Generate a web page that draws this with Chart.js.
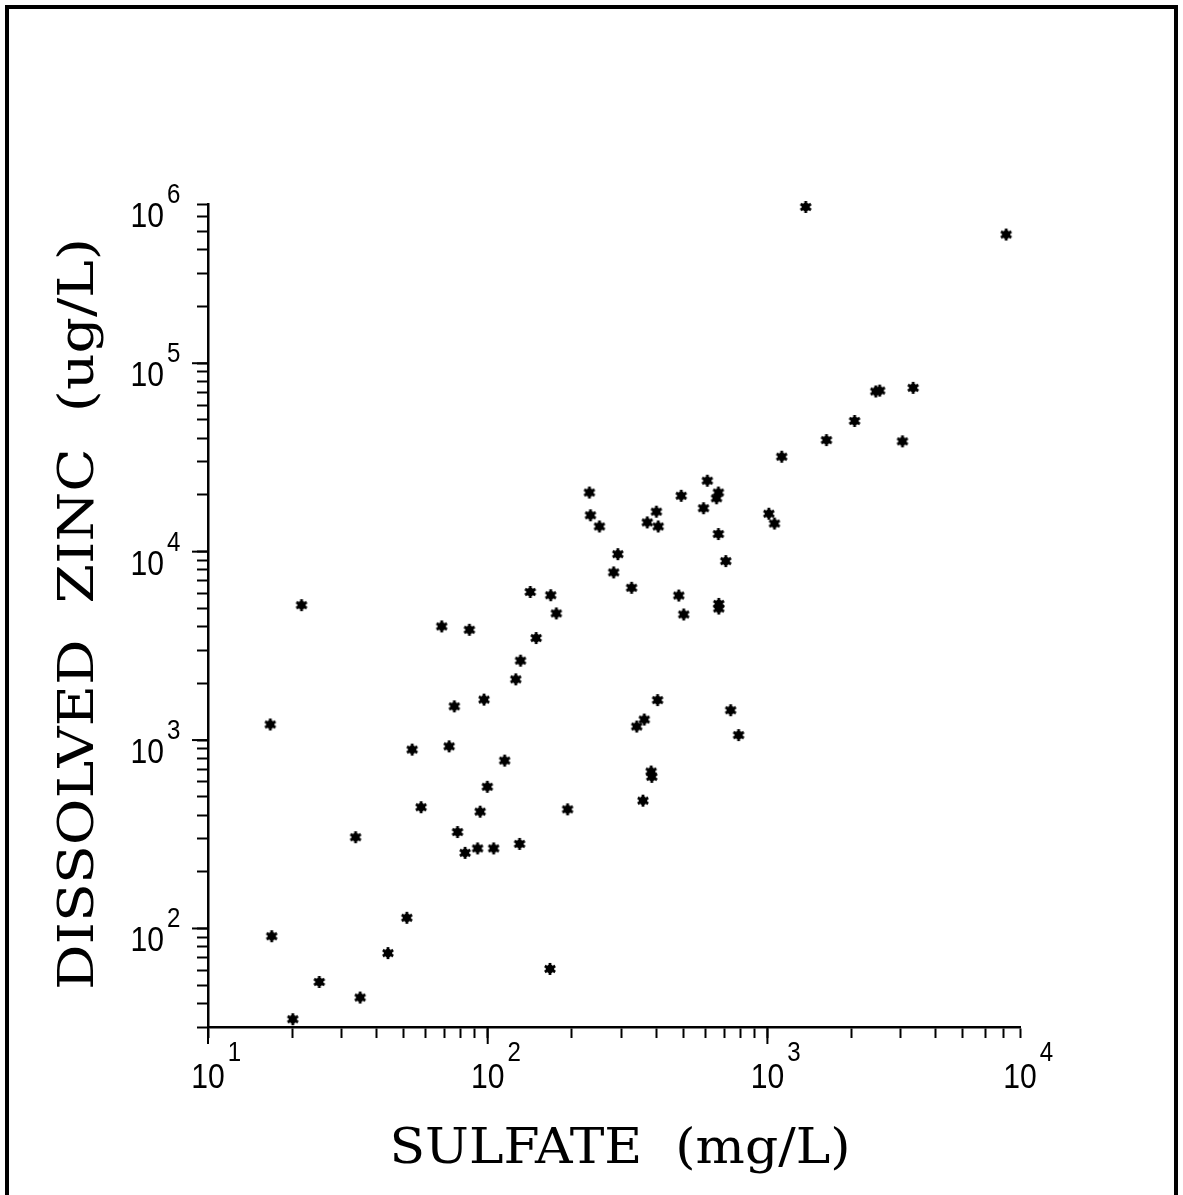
<!DOCTYPE html>
<html>
<head>
<meta charset="utf-8">
<script src="https://cdn.jsdelivr.net/npm/chart.js@4.4.1/dist/chart.umd.min.js"></script>
<style>
  html, body { margin: 0; padding: 0; background: #fff; }
  body { width: 1183px; height: 1195px; position: relative; overflow: hidden; }
  #frame { position: absolute; left: 5px; top: 5px; width: 1165px; height: 1400px;
           border-left: 4px solid #000; border-top: 4px solid #000; border-right: 4px solid #000; }
  #wrap { position: absolute; left: 0; top: 0; width: 1183px; height: 1195px; }
</style>
</head>
<body>
<div id="frame"></div>
<div id="wrap"><canvas id="chart" width="1183" height="1195"></canvas></div>
<script>
// sulfate (mg/L) and dissolved zinc (ug/L), one entry per sample
const sulfate = [
    21.6, 68.5, 86, 97, 76, 16.7, 53.7, 72.8, 99.7, 57.8,
    94, 78, 83, 92, 33.7, 51.4, 16.9, 44, 25, 35,
    20.1, 1125, 610, 231, 492, 668, 658, 591, 233, 401,
    1012, 251, 372, 407, 1060, 668, 292, 710, 282, 327,
    142, 168, 482, 176, 502, 670, 670, 149, 131, 126,
    405, 363, 341, 739, 789, 115, 105, 130, 193, 384,
    386, 359, 167, 1371, 7140, 3320, 2440, 2520, 2050, 1626,
    3040
];
const zinc = [
    5200, 4010, 3850, 1640, 1510, 1210, 890, 926, 565, 440,
    417, 325, 252, 266, 305, 114, 91, 74, 52, 43,
    33, 31900, 23800, 20600, 19800, 20600, 19200, 17000, 15600, 16300,
    15900, 13600, 14300, 13600, 14100, 12400, 9700, 8910, 7760, 6430,
    6110, 5870, 5850, 4700, 4640, 5280, 4990, 3480, 2640, 2100,
    1630, 1285, 1180, 1440, 1063, 778, 266, 281, 429, 681,
    638, 477, 61, 675000, 482000, 74000, 70800, 71600, 49400, 39100,
    38500
];

// axis ends (the plot labels each axis end with the next power of ten)
const xMin = 10, xMax = 8000;
const yMin = 30, yMax = 700000;

const xTickValues = [10, 100, 1000, 8000];
const xTickExponents = ['1', '2', '3', '4'];
const yTickValues = [100, 1000, 10000, 100000, 700000];
const yTickExponents = ['2', '3', '4', '5', '6'];
const xMajor = [10, 100, 1000];
const yMajor = [100, 1000, 10000, 100000];

const xTitle = 'SULFATE  (mg/L)';
const yTitle = 'DISSOLVED  ZINC  (ug/L)';

function logTicks(scale, min, max) {
    const ticks = [];
    for (let d = 1; d <= 1000000; d *= 10) {
        for (let m = 1; m <= 9; m++) {
            const v = m * d;
            if (v >= min && v <= max) ticks.push({ value: v });
        }
    }
    scale.ticks = ticks;
}

// heavy six-spoke asterisk like the plotter mark
function makeMarker() {
    const c = document.createElement('canvas');
    c.width = 14; c.height = 14;
    const g = c.getContext('2d');
    g.fillStyle = '#000';
    g.strokeStyle = '#000';
    g.lineWidth = 2.8;
    g.lineCap = 'butt';
    g.beginPath();
    g.arc(7, 7, 4.3, 0, Math.PI * 2);
    g.fill();
    for (let k = 0; k < 3; k++) {
        const a = Math.PI / 2 + k * Math.PI / 3;
        g.beginPath();
        g.moveTo(7 + 6 * Math.cos(a), 7 + 6 * Math.sin(a));
        g.lineTo(7 - 6 * Math.cos(a), 7 - 6 * Math.sin(a));
        g.stroke();
    }
    return c;
}

// "10" with a raised exponent
function drawPower(ctx, x, base, exp, expBase, align) {
    ctx.save();
    ctx.font = "35px 'Liberation Sans'";
    const sx = 0.86;
    const w = ctx.measureText('10').width * sx;
    const x0 = align === 'center' ? x - w / 2 : x - w;
    ctx.translate(x0, base);
    ctx.scale(sx, 1);
    ctx.textAlign = 'left';
    ctx.textBaseline = 'alphabetic';
    ctx.fillText('10', 0, 0);
    ctx.restore();
    ctx.save();
    ctx.font = "28px 'Liberation Sans'";
    ctx.textAlign = 'left';
    ctx.textBaseline = 'alphabetic';
    ctx.translate(x0 + w + 3, expBase);
    ctx.scale(sx, 1);
    ctx.fillText(exp, 0, 0);
    ctx.restore();
}

function drawTitle(ctx, text, cx, cy, length, vertical) {
    ctx.save();
    ctx.translate(cx, cy);
    if (vertical) ctx.rotate(-Math.PI / 2);
    ctx.font = "48px 'DejaVu Serif'";
    const w = ctx.measureText(text).width;
    ctx.scale(length / w, 1);
    ctx.textAlign = 'center';
    ctx.textBaseline = 'alphabetic';
    ctx.fillStyle = '#000';
    ctx.fillText(text, 0, 0);
    ctx.restore();
}

const labelPlugin = {
    id: 'powerLabels',
    afterDraw(chart) {
        const ctx = chart.ctx;
        const xs = chart.scales.x;
        const ys = chart.scales.y;
        ctx.save();
        ctx.fillStyle = '#000';
        ctx.strokeStyle = '#000';
        ctx.lineWidth = 2;
        // longer marks at the decades
        xMajor.forEach(v => {
            const px = xs.getPixelForValue(v);
            ctx.beginPath();
            ctx.moveTo(px, xs.top);
            ctx.lineTo(px, xs.top + 17);
            ctx.stroke();
        });
        yMajor.forEach(v => {
            const py = ys.getPixelForValue(v);
            ctx.beginPath();
            ctx.moveTo(ys.right, py);
            ctx.lineTo(ys.right - 16, py);
            ctx.stroke();
        });
        xTickValues.forEach((v, i) => {
            const px = xs.getPixelForValue(v);
            drawPower(ctx, px, 1088, xTickExponents[i], 1061, 'center');
        });
        yTickValues.forEach((v, i) => {
            const py = ys.getPixelForValue(v);
            drawPower(ctx, 164, py + 23, yTickExponents[i], py - 1, 'right');
        });
        drawTitle(ctx, xTitle, 620, 1163, 461, false);
        drawTitle(ctx, yTitle, 93, 614, 752, true);
        ctx.restore();
    }
};

const axisStyle = {
    grid: { drawOnChartArea: false, drawTicks: true, tickLength: 11, tickWidth: 2, tickColor: '#000' },
    border: { display: true, color: '#000', width: 2.5 },
    ticks: { display: false }
};

new Chart(document.getElementById('chart'), {
    type: 'scatter',
    data: {
        datasets: [{
            data: sulfate.map((x, i) => ({ x: x, y: zinc[i] })),
            pointStyle: makeMarker(),
            pointRadius: 6,
            backgroundColor: '#000',
            borderColor: '#000',
            clip: false
        }]
    },
    options: {
        responsive: false,
        animation: false,
        devicePixelRatio: 1,
        layout: { padding: { top: 204, right: 163, bottom: 0, left: 0 } },
        plugins: { legend: { display: false }, tooltip: { enabled: false } },
        scales: {
            x: {
                type: 'logarithmic',
                min: xMin,
                max: xMax,
                afterBuildTicks: s => logTicks(s, xMin, xMax),
                afterFit: s => { s.height = 168; },
                ...axisStyle
            },
            y: {
                type: 'logarithmic',
                min: yMin,
                max: yMax,
                afterBuildTicks: s => logTicks(s, yMin, yMax),
                afterFit: s => { s.width = 208; },
                ...axisStyle
            }
        }
    },
    plugins: [labelPlugin]
});
</script>
</body>
</html>
